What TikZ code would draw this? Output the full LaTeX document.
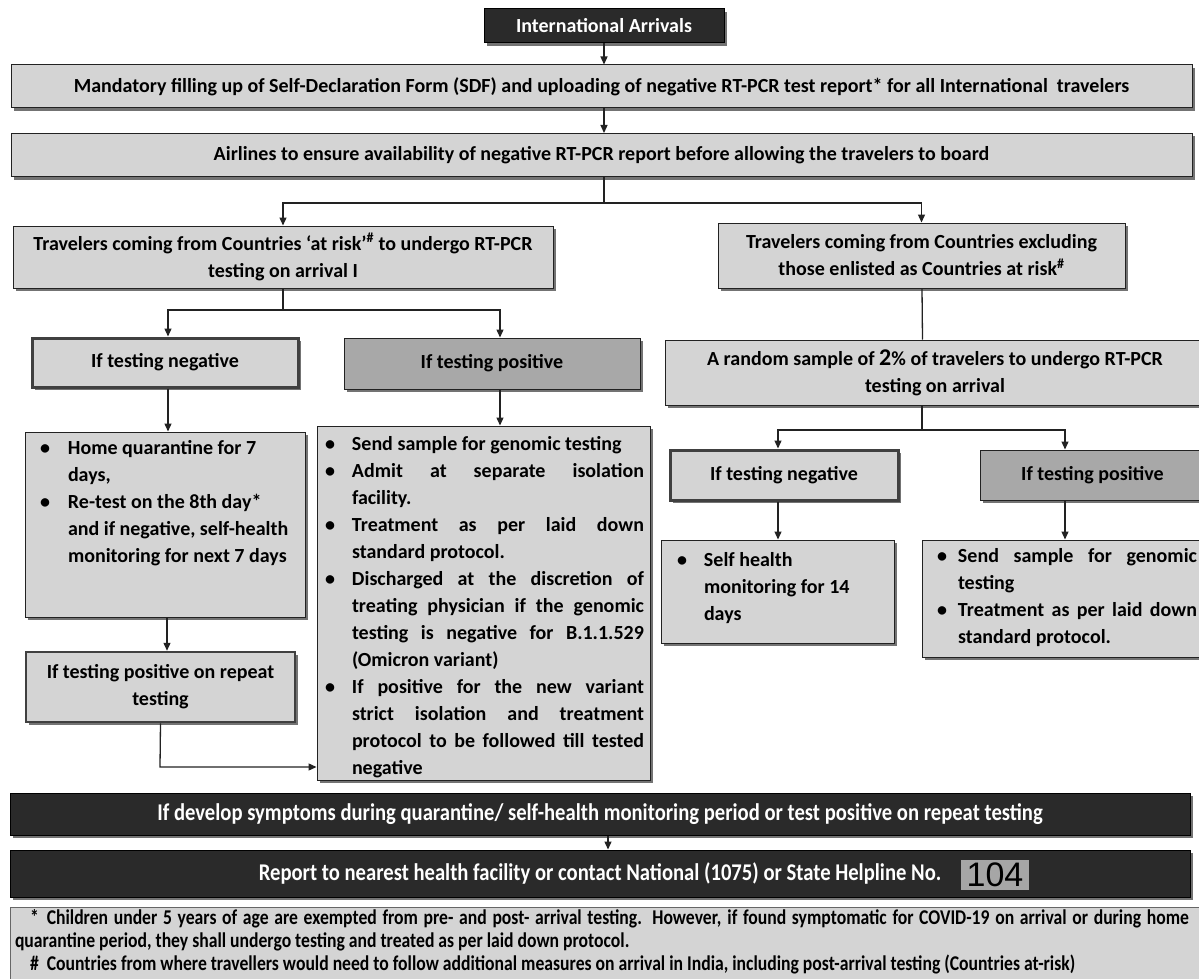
\documentclass[tikz,border=0pt]{standalone}
\usepackage{fontspec}
\setmainfont{Carlito}
\newfontfamily\condfont[FakeStretch=0.86]{Carlito}
\newfontfamily\footfont[FakeStretch=0.84]{Carlito}
\newfontfamily\handfont{Liberation Sans}
\usetikzlibrary{shadows,arrows.meta}
\definecolor{boxgray}{HTML}{D4D4D4}
\definecolor{posgray}{HTML}{A8A8A8}
\definecolor{darkbox}{HTML}{2A2A2A}
\definecolor{linec}{HTML}{222222}
\newlength\bulind
\newlength\bulpre
\newcommand\bul[1]{\par\noindent\hangindent=\bulind\hangafter=1\makebox[\bulind][l]{\hspace*{\bulpre}\textbullet}#1}
\begin{document}
\begin{tikzpicture}[x=1pt,y=-1pt,font=\bfseries\fontsize{20}{27}\selectfont,
  shad/.style={drop shadow={shadow xshift=2.5pt,shadow yshift=-3pt,fill=black!55,opacity=1}},
  frame/.style={draw=linec,line width=1pt,fill=boxgray,shad,inner sep=0pt,text=black},
  box/.style={frame,align=center},
  negbox/.style={box,line width=3pt,draw=black!75},
  posbox/.style={box,fill=posgray},
  darkb/.style={box,fill=darkbox,draw=black,text=white},
  conn/.style={draw=linec,line width=1.3pt},
  arr/.style={conn,-{Triangle[length=8pt,width=7pt]}}]
\fill[white] (0,0) rectangle (1199,979);
\useasboundingbox (0,0) rectangle (1199,979);

\node[darkb,minimum width=240,minimum height=34,font=\bfseries\fontsize{20}{24}\selectfont] (ia) at (604,26) {International Arrivals};
\node[box,minimum width=1181,minimum height=43] (sdf) at (601.5,86.5) {Mandatory filling up of Self-Declaration Form (SDF) and uploading of negative RT-PCR test report* for all International\ \ travelers};
\node[box,minimum width=1181,minimum height=43] (air) at (601.5,155) {Airlines to ensure availability of negative RT-PCR report before allowing the travelers to board};

\node[box,minimum width=540,minimum height=62] (risk) at (283,257) {Travelers coming from Countries ‘at risk’\textsuperscript{\#} to undergo RT-PCR\\testing on arrival I};
\node[box,minimum width=407,minimum height=65] (norisk) at (921.5,255.5) {Travelers coming from Countries excluding\\those enlisted as Countries at risk\textsuperscript{\#}};

\node[negbox,minimum width=266,minimum height=49] (neg1) at (165,362.5) {If testing negative};
\node[posbox,minimum width=296,minimum height=51] (pos1) at (492,363.5) {If testing positive};

\node[frame,minimum width=280,minimum height=185,inner xsep=8pt,inner ysep=8pt] (home) at (165,524.5)
 {\begin{minipage}[t][169pt][t]{264pt}\setlength\bulind{35pt}\setlength\bulpre{7pt}\raggedright
 \bul{Home quarantine for 7\newline days,}
 \bul{Re-test on the 8th day*\newline and if negative, self-health\newline monitoring for next 7 days}
 \end{minipage}};

\node[frame,minimum width=333,minimum height=354,inner xsep=6pt,inner ysep=10pt] (send1) at (483.5,603)
 {\begin{minipage}[t][334pt][t]{321pt}\setlength\bulind{29pt}\setlength\bulpre{2pt}
 \bul{Send sample for genomic testing}
 \bul{Admit at separate isolation\linebreak facility.}
 \bul{Treatment as per laid down\linebreak standard protocol.}
 \bul{Discharged at the discretion of\linebreak treating physician if the genomic\linebreak testing is negative for B.1.1.529\linebreak (Omicron variant)}
 \bul{If positive for the new variant\linebreak strict isolation and treatment\linebreak protocol to be followed till tested\linebreak negative}
 \end{minipage}};

\node[box,line width=2.5pt,draw=black!75,minimum width=269,minimum height=70] (rep) at (160.5,687) {If testing positive on repeat\\testing};

\node[box,minimum width=540,minimum height=65] (rand) at (935,372.5) {A random sample of {\fontsize{24}{24}\selectfont 2}\% of travelers to undergo RT-PCR\\testing on arrival};

\node[negbox,minimum width=228,minimum height=50] (neg2) at (784,475) {If testing negative};
\node[posbox,minimum width=225,minimum height=50] (pos2) at (1092.5,475) {If testing positive};

\node[frame,minimum width=233,minimum height=103,inner xsep=8pt,inner ysep=12pt] (self) at (777.5,591.5)
 {\begin{minipage}[t][79pt][t]{217pt}\setlength\bulind{35pt}\setlength\bulpre{8pt}\raggedright
 \bul{Self health\newline monitoring for 14\newline days}
 \end{minipage}};

\node[frame,minimum width=283,minimum height=117,inner xsep=8pt,inner ysep=8pt] (send2) at (1063.5,598.5)
 {\begin{minipage}[t][101pt][t]{267pt}\setlength\bulind{28pt}\setlength\bulpre{7pt}
 \bul{Send sample for genomic\linebreak testing}
 \bul{Treatment as per laid down\linebreak standard protocol.}
 \end{minipage}};

\node[darkb,minimum width=1180,minimum height=42,font=\condfont\bfseries\fontsize{24}{26}\selectfont] (sym) at (600,814) {If develop symptoms during quarantine/ self-health monitoring period or test positive on repeat testing};
\node[darkb,minimum width=1180,minimum height=47,font=\condfont\bfseries\fontsize{24}{26}\selectfont] (report) at (600,873.5) {Report to nearest health facility or contact National (1075) or State Helpline No.};
\node[font=\handfont\fontsize{34}{34}\selectfont,text=black,fill=black!35,inner xsep=6pt,inner ysep=3pt] (hw) at (995,875) {104};

\node[frame,draw=black!60,line width=0.8pt,minimum width=1200,minimum height=83,inner xsep=5pt,inner ysep=2pt,drop shadow={opacity=0}] (foot) at (610,948.5)
 {\begin{minipage}[t][79pt][t]{1190pt}\footfont\bfseries\fontsize{21}{23}\selectfont\rightskip=16pt
 \noindent\hspace*{15pt}*\hspace{8pt}Children under 5 years of age are exempted from pre- and post- arrival testing. However, if found symptomatic for COVID-19 on arrival or during home\linebreak quarantine period, they shall undergo testing and treated as per laid down protocol.\par
 \noindent\hspace*{15pt}\#\hspace{8pt}Countries from where travellers would need to follow additional measures on arrival in India, including post-arrival testing (Countries at-risk)
 \end{minipage}};

% connectors
\draw[arr] (ia.south) -- (sdf.north -| ia.south);
\draw[arr] (sdf.south -| ia.south) -- (air.north -| ia.south);
\coordinate (b1) at (604,203);
\draw[conn] (air.south -| b1) -- (b1);
\draw[arr] (b1) -| (risk.north);
\draw[arr] (b1) -| (norisk.north);

\coordinate (b2) at (283,310);
\draw[conn] (risk.south) -- (b2);
\draw[arr] (b2) -| ([xshift=3pt]neg1.north);
\draw[arr] (b2) -| ([xshift=8pt]pos1.north);
\draw[arr] ([xshift=3pt]neg1.south) -- ([xshift=3pt]home.north);
\draw[arr] ([xshift=8pt]pos1.south) -- ([xshift=16.5pt]send1.north);
\draw[arr] ([xshift=2pt]home.south) -- ([xshift=6.5pt]rep.north);
\coordinate (b3) at (160,767);
\draw[arr] (rep.south) -- (b3) -- (b3 -| send1.west);

\draw[conn] ([xshift=0.5pt]norisk.south) -- ([xshift=-12.5pt]rand.north);
\coordinate (b4) at (922,430);
\draw[conn] ([xshift=-13pt]rand.south) -- (b4);
\draw[arr] (b4) -| ([xshift=-6pt]neg2.north);
\draw[arr] (b4) -| ([xshift=-27.5pt]pos2.north);
\draw[arr] ([xshift=-6pt]neg2.south) -- ([xshift=0.5pt]self.north);
\draw[arr] ([xshift=-27.5pt]pos2.south) -- ([xshift=1.5pt]send2.north);

\draw[arr] ([xshift=8pt]sym.south) -- ([xshift=8pt]report.north);
\end{tikzpicture}
\end{document}
